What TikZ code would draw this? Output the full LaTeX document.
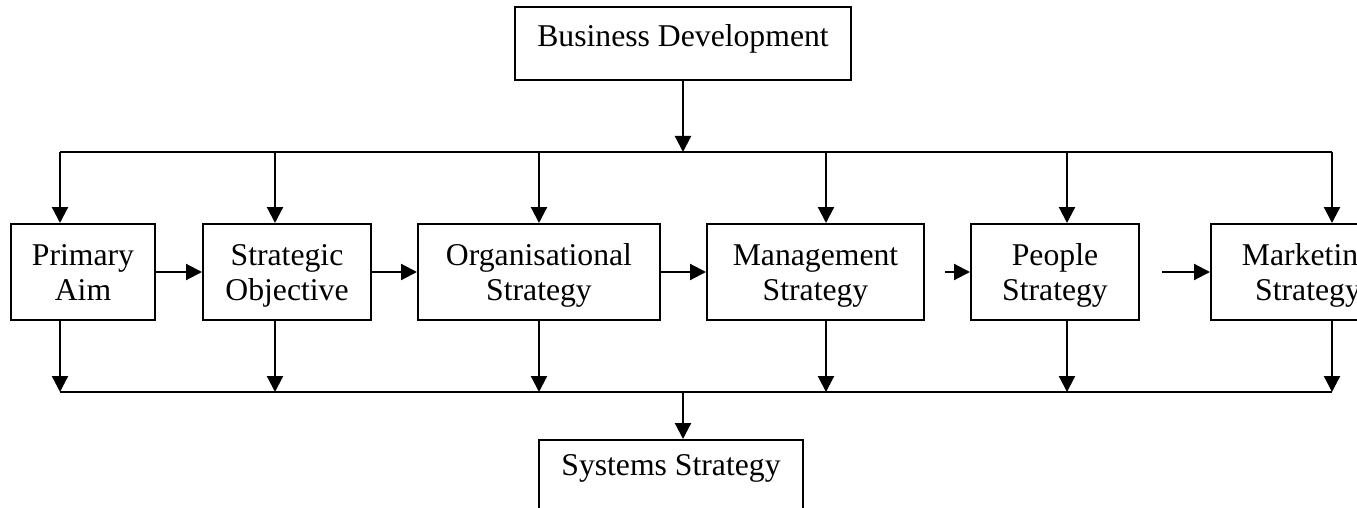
\documentclass[tikz,border=0pt]{standalone}
\usepackage{fontspec}
\setmainfont{Liberation Serif}
\usetikzlibrary{arrows.meta}
\newcommand{\ls}{\rule[-7pt]{0pt}{35pt}}
\begin{document}
\begin{tikzpicture}[x=1pt,y=-1pt,
  box/.style={draw,line width=2pt,inner sep=0pt,align=center,fill=white,
    font=\fontsize{31.7}{35}\selectfont},
  rowbox/.style={box,minimum height=96pt},
  conn/.style={line width=2.2pt,-{Triangle[length=16pt,width=16pt]}},
  bus/.style={line width=1.8pt}]
\useasboundingbox (0,0) rectangle (1357,508);
\clip (0,0) rectangle (1357,508);

% nodes
\node[box,minimum width=336pt,minimum height=73pt,text height=28pt,text depth=21pt] (bd) at (683,43.5) {Business Development};
\node[rowbox,minimum width=144pt] (pa) at (83,272) {\ls Primary\\\ls Aim};
\node[rowbox,minimum width=168pt] (so) at (287,272) {\ls Strategic\\\ls Objective};
\node[rowbox,minimum width=242pt] (os) at (539,272) {\ls Organisational\\\ls Strategy};
\node[rowbox,minimum width=217pt] (ms) at (815.5,272) {\ls Management\\\ls Strategy};
\node[rowbox,minimum width=168pt] (ps) at (1055,272) {\ls People\\\ls Strategy};
\node[rowbox,minimum width=194pt] (mk) at (1308,272) {\ls Marketing\\\ls Strategy};
\node[box,minimum width=264pt,minimum height=80pt,text height=28pt,text depth=38pt] (ss) at (671,480) {Systems Strategy};

% bus coordinates
\coordinate (tb) at (683,152);
\coordinate (t1) at (60,152);
\coordinate (t2) at (275,152);
\coordinate (t3) at (539,152);
\coordinate (t4) at (826,152);
\coordinate (t5) at (1067,152);
\coordinate (t6) at (1332,152);
\coordinate (bb) at (683,392);
\coordinate (b1) at (60,392);
\coordinate (b2) at (275,392);
\coordinate (b3) at (539,392);
\coordinate (b4) at (826,392);
\coordinate (b5) at (1067,392);
\coordinate (b6) at (1332,392);
\coordinate (a4) at (945,272);
\coordinate (a5) at (1162,272);

% top bus
\draw[conn] (bd) -- (tb);
\draw[bus] (t1) -- (t6);
\draw[conn] (t1) -- (t1 |- pa.north);
\draw[conn] (t2) -- (t2 |- so.north);
\draw[conn] (t3) -- (t3 |- os.north);
\draw[conn] (t4) -- (t4 |- ms.north);
\draw[conn] (t5) -- (t5 |- ps.north);
\draw[conn] (t6) -- (t6 |- mk.north);

% horizontal chain
\draw[conn] (pa) -- (so);
\draw[conn] (so) -- (os);
\draw[conn] (os) -- (ms);
\draw[conn] (a4) -- (ps);
\draw[conn] (a5) -- (mk);

% bottom bus
\draw[bus] (b1) -- (b6);
\draw[conn] (pa.south -| b1) -- (b1);
\draw[conn] (so.south -| b2) -- (b2);
\draw[conn] (os.south -| b3) -- (b3);
\draw[conn] (ms.south -| b4) -- (b4);
\draw[conn] (ps.south -| b5) -- (b5);
\draw[conn] (mk.south -| b6) -- (b6);
\draw[conn] (bb) -- (bb |- ss.north);
\end{tikzpicture}
\end{document}
